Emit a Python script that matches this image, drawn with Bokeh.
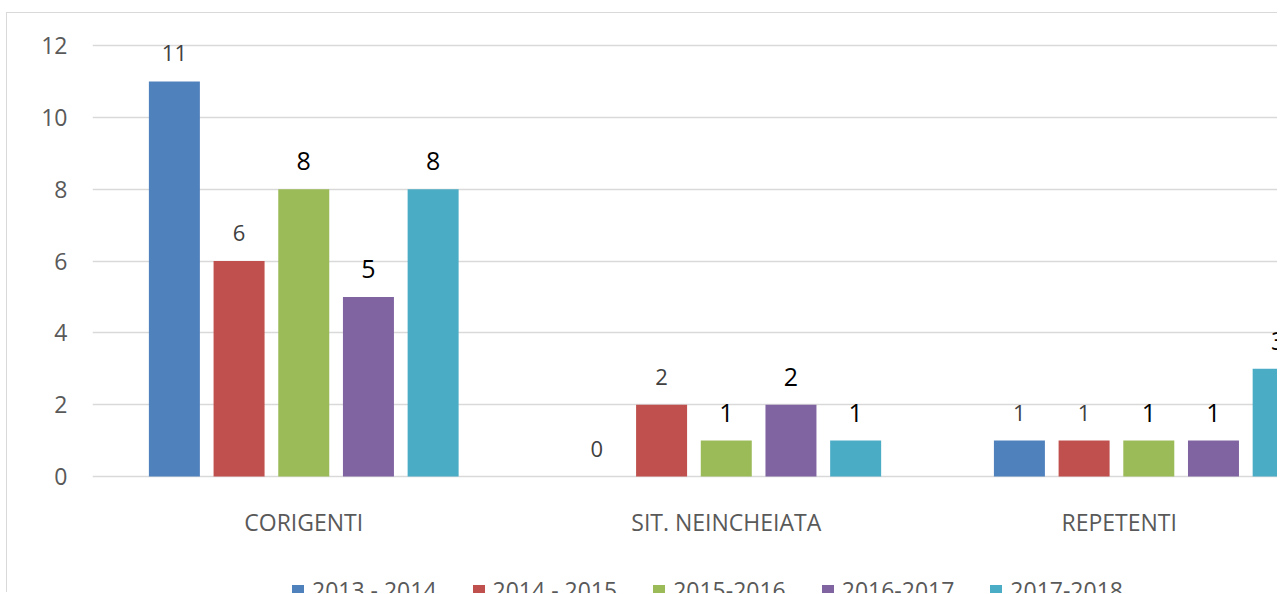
from bokeh.plotting import figure
from bokeh.models import (ColumnDataSource, Range1d, FixedTicker, Legend, LegendItem, LabelSet)
from bokeh.core.properties import value
from bokeh.embed import file_html
from bokeh.resources import INLINE

# ---- data ----
categories = ["CORIGENTI", "SIT. NEINCHEIATA", "REPETENTI"]
category_label_x = [0.5, 1.5, 2.43]
series_names = ["2013 - 2014", "2014 - 2015", "2015-2016", "2016-2017", "2017-2018"]
v_2013_2014 = [11, 0, 1]
v_2014_2015 = [6, 2, 1]
v_2015_2016 = [8, 1, 1]
v_2016_2017 = [5, 2, 1]
v_2017_2018 = [8, 1, 3]
y_ticks = [0, 2, 4, 6, 8, 10, 12]

series_values = [v_2013_2014, v_2014_2015, v_2015_2016, v_2016_2017, v_2017_2018]
colors = ["#4F81BD", "#C0504D", "#9BBB59", "#8064A2", "#4BACC6"]
label_colors = ["#404040", "#404040", "#000000", "#000000", "#000000"]
label_sizes = ["22px", "22px", "25px", "25px", "25px"]

FONT = "Open Sans"
step = 0.1531
bar_w = 0.1207

p = figure(width=1271, height=580, output_backend="svg", toolbar_location=None,
           x_range=Range1d(0, 2.807), y_range=Range1d(-3.257, 12.195),
           min_border_left=85, min_border_right=0, min_border_top=25, min_border_bottom=0,
           margin=(12, 0, 0, 6))
p.styles = {"border-left": "1px solid #d9d9d9", "border-top": "1px solid #d9d9d9"}
p.outline_line_color = None
p.background_fill_color = "white"
p.border_fill_color = "white"

items = []
for k, (name, vals) in enumerate(zip(series_names, series_values)):
    xs = [i + 0.5 + (k - 2) * step for i in range(len(categories))]
    src = ColumnDataSource(dict(x=xs, top=vals, lab=[str(v) for v in vals]))
    r = p.vbar(x="x", top="top", width=bar_w, source=src, fill_color=colors[k], line_color=None)
    items.append(LegendItem(label=name, renderers=[r]))
    ls = LabelSet(x="x", y="top", text="lab", source=src, y_offset=28, text_align="center",
                  text_baseline="middle", text_font=value(FONT), text_font_size=label_sizes[k],
                  text_color=label_colors[k])
    p.add_layout(ls)

# category labels under the zero line
cat_src = ColumnDataSource(dict(x=category_label_x, y=[0] * len(categories), lab=categories))
p.add_layout(LabelSet(x="x", y="y", text="lab", source=cat_src, y_offset=-45, text_align="center",
                      text_baseline="middle", text_font=value(FONT), text_font_size="23px",
                      text_color="#595959"))

# axes
p.xaxis.visible = False

p.yaxis.ticker = FixedTicker(ticks=y_ticks)
p.yaxis.axis_line_color = None
p.yaxis.major_tick_line_color = None
p.yaxis.minor_tick_line_color = None
p.yaxis.major_label_standoff = 19
p.yaxis.major_label_text_font = FONT
p.yaxis.major_label_text_font_size = "23px"
p.yaxis.major_label_text_color = "#595959"

p.xgrid.grid_line_color = None
p.ygrid.ticker = FixedTicker(ticks=y_ticks)
p.ygrid.grid_line_color = "#d9d9d9"
p.ygrid.grid_line_width = 1.5

legend = Legend(items=items, orientation="horizontal", location=(198, -13),
                padding=0, margin=0, spacing=34, glyph_width=15, glyph_height=15,
                label_standoff=7, label_height=15,
                label_text_font=FONT, label_text_font_size="23px", label_text_color="#595959",
                border_line_color=None, background_fill_alpha=0)
p.add_layout(legend, "center")

open("out.html", "w").write(file_html(p, INLINE))
